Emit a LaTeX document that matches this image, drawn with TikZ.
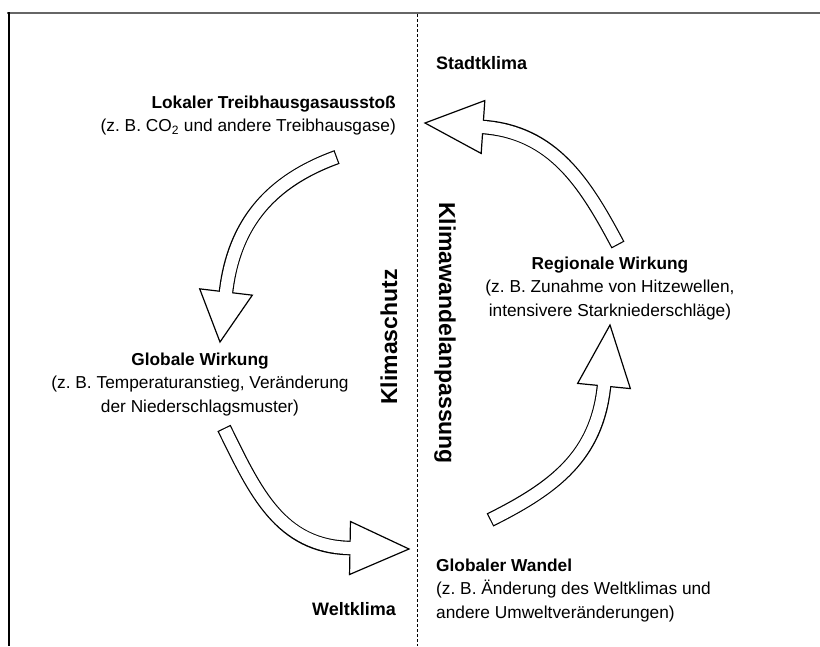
\documentclass[tikz,border=0pt]{standalone}
\usepackage{fontspec}
\setmainfont{Liberation Sans}
\usetikzlibrary{calc}
\begin{document}
\begin{tikzpicture}[x = 1pt, y = -1pt,
        txt/.style = {font = \fontsize{17.3}{23.5}\selectfont, inner sep = 0pt},
        lbl/.style = {font = \bfseries\fontsize{18}{22}\selectfont, inner sep = 0pt},
        side/.style = {font = \bfseries\fontsize{23}{26}\selectfont, inner sep = 0pt}]
                \useasboundingbox (0, 0) rectangle (820, 646);
                \draw[line width = 2.4, black!60] (7, 13) -- (820, 13);
                \draw[line width = 1.6] (9, 12) -- (9, 646);
                \draw[dashed, dash pattern = on 3pt off 2pt, line width = 0.9] (417.5, 14) -- (417.5, 646);
                % texts
                \node[txt, anchor = east, align = right] (lokal) at (396, 115.5)
                    {\textbf{Lokaler Treibhausgasausstoß}\\(z.~B. CO\textsubscript{2} und andere Treibhausgase)};
                \node[txt, align = center] (global) at (200, 384.5)
                    {\textbf{Globale Wirkung}\\(z.~B. Temperaturanstieg, Veränderung\\der Niederschlagsmuster)};
                \node[txt, align = center] (regional) at (610, 288.5)
                    {\textbf{Regionale Wirkung}\\(z.~B. Zunahme von Hitzewellen,\\intensivere Starkniederschläge)};
                \node[txt, anchor = west, align = left] (wandel) at (436, 590.5)
                    {\textbf{Globaler Wandel}\\(z.~B. Änderung des Weltklimas und\\andere Umweltveränderungen)};
                \node[lbl, anchor = west] (stadt) at (436, 63) {Stadtklima};
                \node[lbl, anchor = east] (welt) at (396, 609) {Weltklima};
                \node[side, rotate = 90] (schutz) at (389, 337) {Klimaschutz};
                \node[side, rotate = -90] (anpassung) at (445, 333) {Klimawandelanpassung};
                % arrows: tail, controls, base of head, tip
                \coordinate (t1) at (337, 157); \coordinate (p1) at (271, 181); \coordinate (q1) at (234, 223);
                \coordinate (b1) at (226, 292); \coordinate (s1) at (220, 342);
                \coordinate (t2) at (224, 428); \coordinate (p2) at (255, 491); \coordinate (q2) at (280, 547);
                \coordinate (b2) at (350, 548); \coordinate (s2) at (409, 549);
                \coordinate (t3) at (490, 520); \coordinate (p3) at (554, 488); \coordinate (q3) at (597, 456);
                \coordinate (b3) at (604, 386); \coordinate (s3) at (610, 325);
                \coordinate (t4) at (618, 245); \coordinate (p4) at (585, 183); \coordinate (q4) at (553, 132);
                \coordinate (b4) at (483, 127); \coordinate (s4) at (425, 123);
                \foreach \from/\ctla/\ctlb/\base/\tip in {t1/p1/q1/b1/s1, t2/p2/q2/b2/s2, t3/p3/q3/b3/s3, t4/p4/q4/b4/s4} {
                    \draw[line width = 14.6] (\from) .. controls (\ctla) and (\ctlb) .. (\base);
                    \draw[fill = white, line width = 1.2, line join = miter]
                        ($(\base)!26.5pt!90:(\tip)$) -- (\tip) -- ($(\base)!26.5pt!-90:(\tip)$) -- cycle;
                    \draw[white, line width = 12.2, shorten <= 1.2pt, shorten >= -1.5pt]
                        (\from) .. controls (\ctla) and (\ctlb) .. (\base);
                }
            \end{tikzpicture}
\end{document}
